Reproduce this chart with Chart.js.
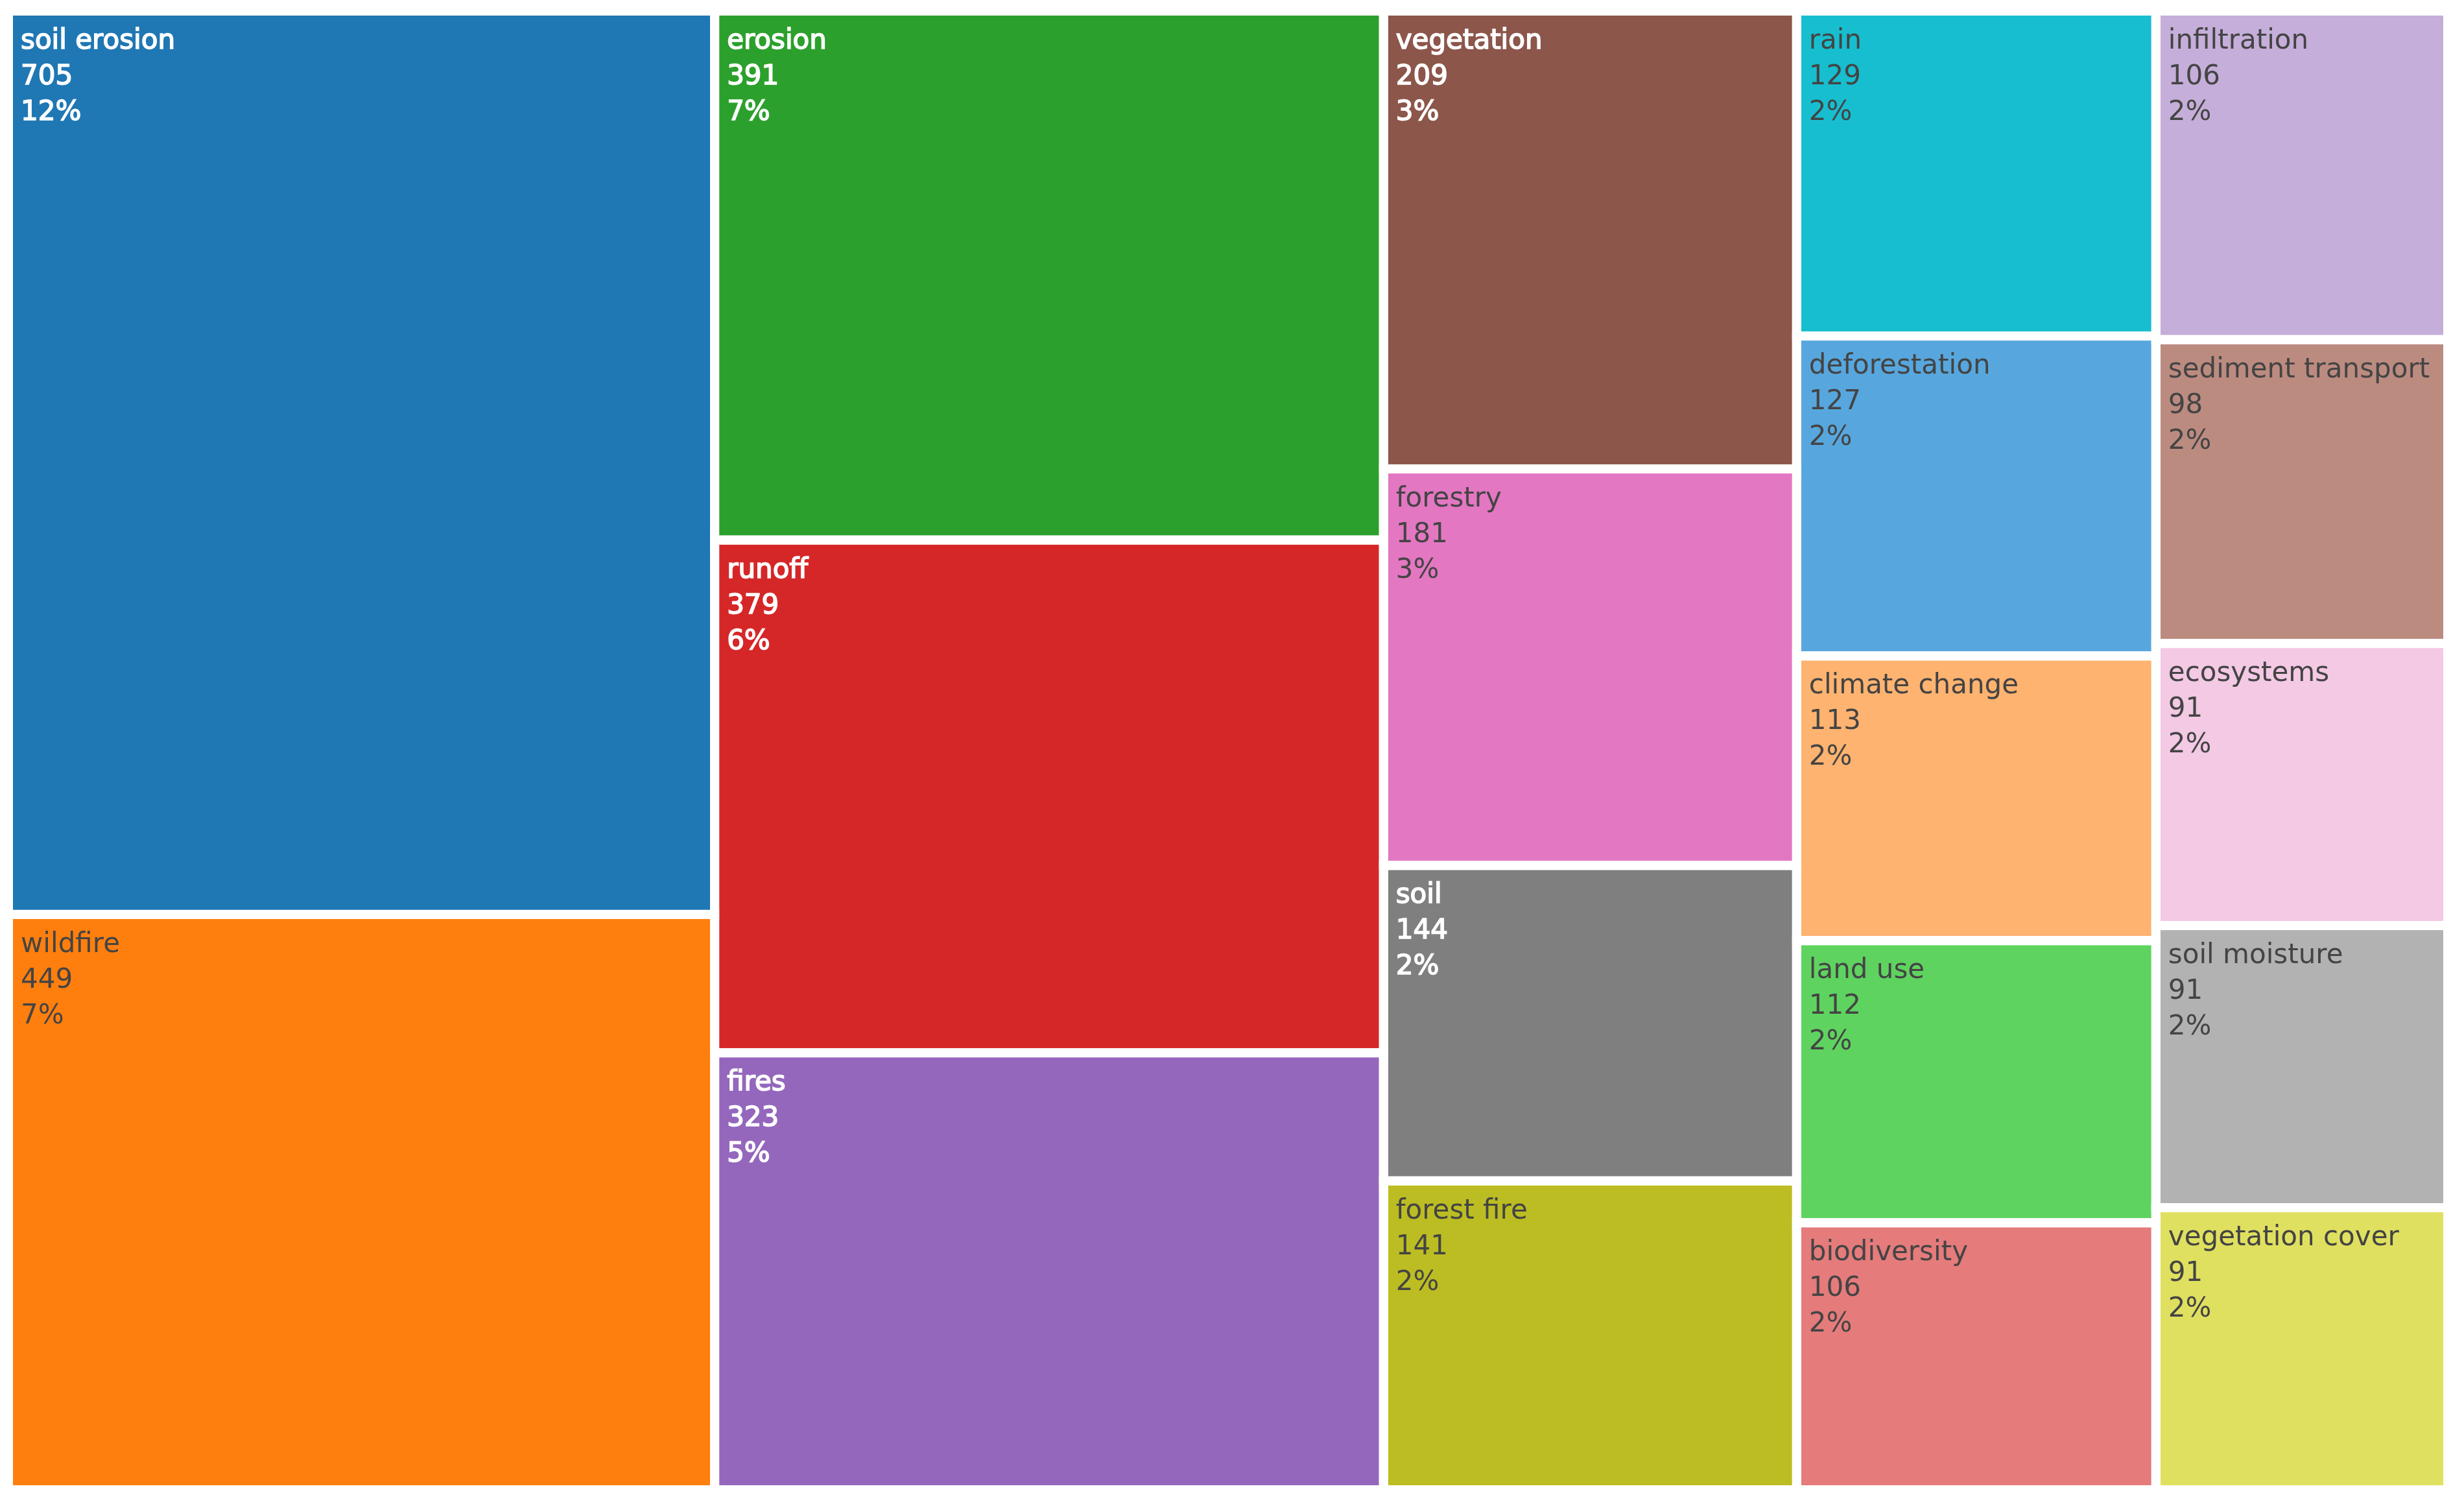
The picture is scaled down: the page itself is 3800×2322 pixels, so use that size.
<!DOCTYPE html>
<html>
<head>
<meta charset="utf-8">
<script src="https://cdn.jsdelivr.net/npm/chart.js@4.4.1/dist/chart.umd.min.js"></script>
<style>
html, body { margin: 0; padding: 0; background: #fff; }
</style>
</head>
<body>
<canvas id="treeChart" width="3800" height="2322"></canvas>
<script>
// treemap of keyword counts
var labels = ['soil erosion', 'wildfire', 'erosion', 'runoff', 'fires', 'vegetation', 'forestry', 'soil',
    'forest fire', 'rain', 'deforestation', 'climate change', 'land use', 'biodiversity', 'infiltration',
    'sediment transport', 'ecosystems', 'soil moisture', 'vegetation cover'];
var counts = [705, 449, 391, 379, 323, 209, 181, 144, 141, 129, 127, 113, 112, 106, 106, 98, 91, 91, 91];
var percents = [12, 7, 7, 6, 5, 3, 3, 2, 2, 2, 2, 2, 2, 2, 2, 2, 2, 2, 2];

var colors = ['#1f77b4', '#ff7f0e', '#2ca02c', '#d62728', '#9467bd', '#8c564b', '#e377c2', '#7f7f7f',
    '#bcbd22', '#17becf', '#57a7de', '#ffb370', '#5fd35f', '#e57b7b', '#c5aed9', '#bc8b80',
    '#f3c9e4', '#b2b2b2', '#e0e060'];

function isDark(hex) {
    var r = parseInt(hex.substr(1, 2), 16), g = parseInt(hex.substr(3, 2), 16), b = parseInt(hex.substr(5, 2), 16);
    return (0.299 * r + 0.587 * g + 0.114 * b) < 135;
}

var treemapPlugin = {
    id: 'treemap',
    afterDatasetsDraw: function (chart) {
        var ctx = chart.ctx;
        var xs = chart.scales.x, ys = chart.scales.y;
        var area = chart.chartArea;
        var total = counts.reduce(function (a, b) { return a + b; }, 0);
        var pxPerUnit = (area.right - area.left) / total;
        var h = area.bottom - area.top;

        function worst(sum, min, max) {
            var w = sum * pxPerUnit;
            return Math.max((max / sum * h) / w, w / (min / sum * h));
        }

        // squarified columns, left to right
        var cols = [], i = 0;
        while (i < counts.length) {
            var col = [i], sum = counts[i], mn = counts[i], mx = counts[i];
            var best = worst(sum, mn, mx);
            i++;
            while (i < counts.length) {
                var v = counts[i];
                var r = worst(sum + v, Math.min(mn, v), Math.max(mx, v));
                if (r > best) break;
                best = r; sum += v; mn = Math.min(mn, v); mx = Math.max(mx, v);
                col.push(i); i++;
            }
            cols.push({ items: col, sum: sum });
        }

        var cells = [], start = 0;
        cols.forEach(function (c) {
            var x0 = xs.getPixelForValue(start), x1 = xs.getPixelForValue(start + c.sum);
            var acc = 0;
            c.items.forEach(function (k) {
                var y0 = ys.getPixelForValue(acc / c.sum);
                acc += counts[k];
                var y1 = ys.getPixelForValue(acc / c.sum);
                cells.push({ k: k, x: x0, y: y0, w: x1 - x0, h: y1 - y0 });
            });
            start += c.sum;
        });

        ctx.save();
        cells.forEach(function (c) {
            ctx.fillStyle = colors[c.k];
            ctx.fillRect(c.x, c.y, c.w, c.h);
        });
        ctx.strokeStyle = '#ffffff';
        ctx.lineWidth = 14;
        cells.forEach(function (c) {
            ctx.strokeRect(c.x, c.y, c.w, c.h);
        });

        ctx.font = '42px "DejaVu Sans"';
        ctx.textBaseline = 'alphabetic';
        ctx.textAlign = 'left';
        cells.forEach(function (c) {
            ctx.save();
            ctx.beginPath();
            ctx.rect(c.x + 7, c.y + 7, c.w - 14, c.h - 14);
            ctx.clip();
            var dark = isDark(colors[c.k]);
            ctx.fillStyle = dark ? '#ffffff' : '#444444';
            ctx.strokeStyle = '#ffffff';
            ctx.lineWidth = 1.6;
            var tx = c.x + 19, ty = c.y + 58;
            var lines = [labels[c.k], String(counts[c.k]), percents[c.k] + '%'];
            lines.forEach(function (t, j) {
                ctx.fillText(t, tx, ty + j * 55);
                if (dark) ctx.strokeText(t, tx, ty + j * 55);
            });
            ctx.restore();
        });
        ctx.restore();
    }
};

var config = {
    type: 'scatter',
    data: {
        labels: labels,
        datasets: [{ label: 'keywords', data: [], pointRadius: 0 }]
    },
    options: {
        responsive: false,
        animation: false,
        layout: { padding: { left: 13, top: 17, right: 25, bottom: 25 } },
        scales: {
            x: { type: 'linear', display: false, min: 0, max: counts.reduce(function (a, b) { return a + b; }, 0) },
            y: { type: 'linear', display: false, min: 0, max: 1, reverse: true }
        },
        plugins: {
            legend: { display: false },
            tooltip: { enabled: false }
        }
    },
    plugins: [treemapPlugin]
};

var treeChart = new Chart(document.getElementById('treeChart'), config);
</script>
</body>
</html>
